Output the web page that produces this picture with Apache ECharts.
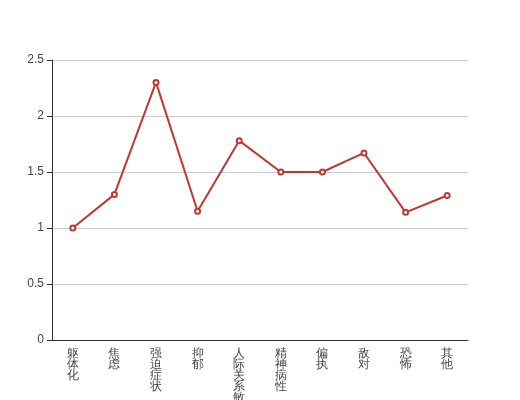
<!DOCTYPE html>
<html>
<head>
<meta charset="utf-8">
<script src="https://cdn.jsdelivr.net/npm/echarts@6/dist/echarts.min.js"></script>
<style>html,body{margin:0;padding:0;background:#fff}#main{width:520px;height:400px}</style>
</head>
<body>
<div id="main"></div>
<script>
var categories = ['躯体化','焦虑','强迫症状','抑郁','人际关系敏感','精神病性','偏执','敌对','恐怖','其他'];
var values = [1.00, 1.30, 2.30, 1.15, 1.78, 1.50, 1.50, 1.67, 1.14, 1.29];
var yTicks = {min: 0, max: 2.5, interval: 0.5};

var chart = echarts.init(document.getElementById('main'), null, {renderer: 'canvas'});
chart.setOption({
  animation: false,
  grid: {left: 52, right: 52, top: 60, bottom: 60, containLabel: false, outerBoundsMode: 'none'},
  xAxis: {
    type: 'category',
    data: categories,
    axisLine: {lineStyle: {color: '#333'}},
    axisTick: {lineStyle: {color: '#333'}},
    axisLabel: {
      color: '#444',
      fontSize: 12,
      lineHeight: 11,
      interval: 0,
      formatter: function (v) { return v.split('').join('\n'); }
    }
  },
  yAxis: {
    type: 'value',
    min: yTicks.min, max: yTicks.max, interval: yTicks.interval,
    axisLine: {show: true, lineStyle: {color: '#333'}},
    axisTick: {show: true, lineStyle: {color: '#333'}},
    axisLabel: {color: '#444', fontSize: 12},
    splitLine: {lineStyle: {color: '#ccc'}}
  },
  series: [{
    type: 'line',
    data: values,
    symbol: 'emptyCircle',
    symbolSize: 5,
    itemStyle: {color: '#c23531', borderWidth: 1},
    lineStyle: {color: '#c23531', width: 2}
  }]
});
</script>
</body>
</html>
